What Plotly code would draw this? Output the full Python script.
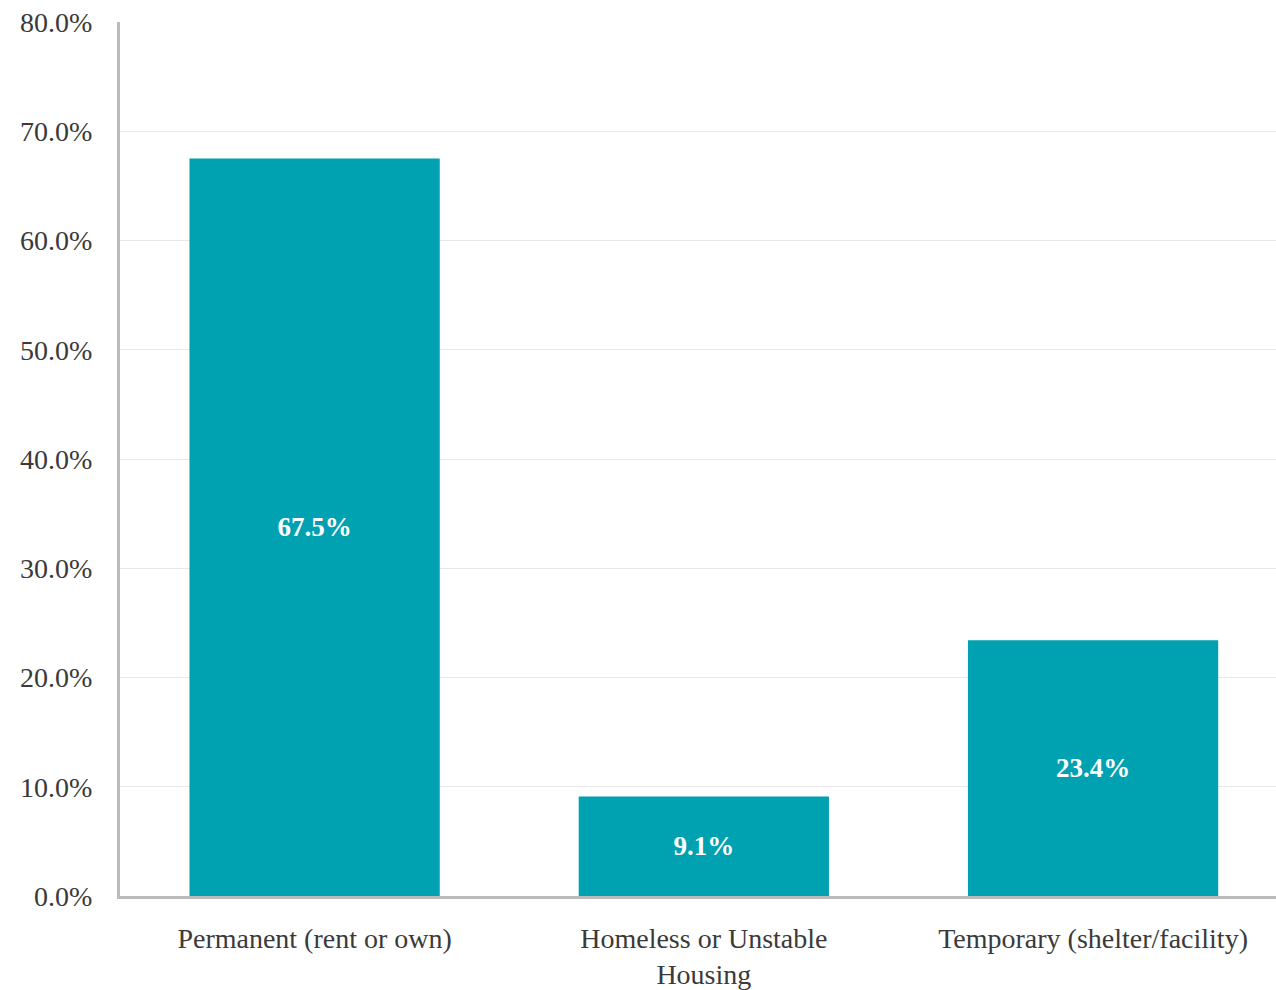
import plotly.graph_objects as go

categories = ["Permanent (rent or own)", "Homeless or Unstable<br>Housing", "Temporary (shelter/facility)"]
values = [67.5, 9.1, 23.4]
y_ticks = [0, 10, 20, 30, 40, 50, 60, 70, 80]
y_tick_labels = ["0.0%", "10.0%", "20.0%", "30.0%", "40.0%", "50.0%", "60.0%", "70.0%", "80.0%"]

FONT = "Liberation Serif, Times New Roman, serif"

fig = go.Figure(go.Bar(
    x=categories,
    y=values,
    marker=dict(color="#00A1B1", line=dict(width=0)),
    texttemplate="%{y:.1f}%",
    textposition="inside",
    insidetextanchor="middle",
    textangle=0,
    textfont=dict(family=FONT, size=27, color="white", weight="bold"),
    hoverinfo="skip",
))

fig.update_layout(
    width=1276, height=990,
    margin=dict(l=120, r=0, t=22, b=92),
    paper_bgcolor="white", plot_bgcolor="white",
    bargap=0.357,
    showlegend=False,
    font=dict(family=FONT, size=28, color="#3A3A3A"),
)
fig.update_xaxes(
    range=[-0.5, 2.47],
    showline=True, linecolor="#BBBBBB", linewidth=3,
    showgrid=False, ticks="", ticklabelstandoff=15,
    tickfont=dict(family=FONT, size=28, color="#3A3A3A"),
)
fig.update_yaxes(
    range=[0, 80], tickmode="array", tickvals=y_ticks, ticktext=y_tick_labels,
    showline=True, linecolor="#BBBBBB", linewidth=3,
    showgrid=True, gridcolor="#E8E8E8", gridwidth=1,
    zeroline=False, ticks="", ticklabelstandoff=19,
    tickfont=dict(family=FONT, size=28, color="#3A3A3A"),
)

fig.write_html("out.html")
